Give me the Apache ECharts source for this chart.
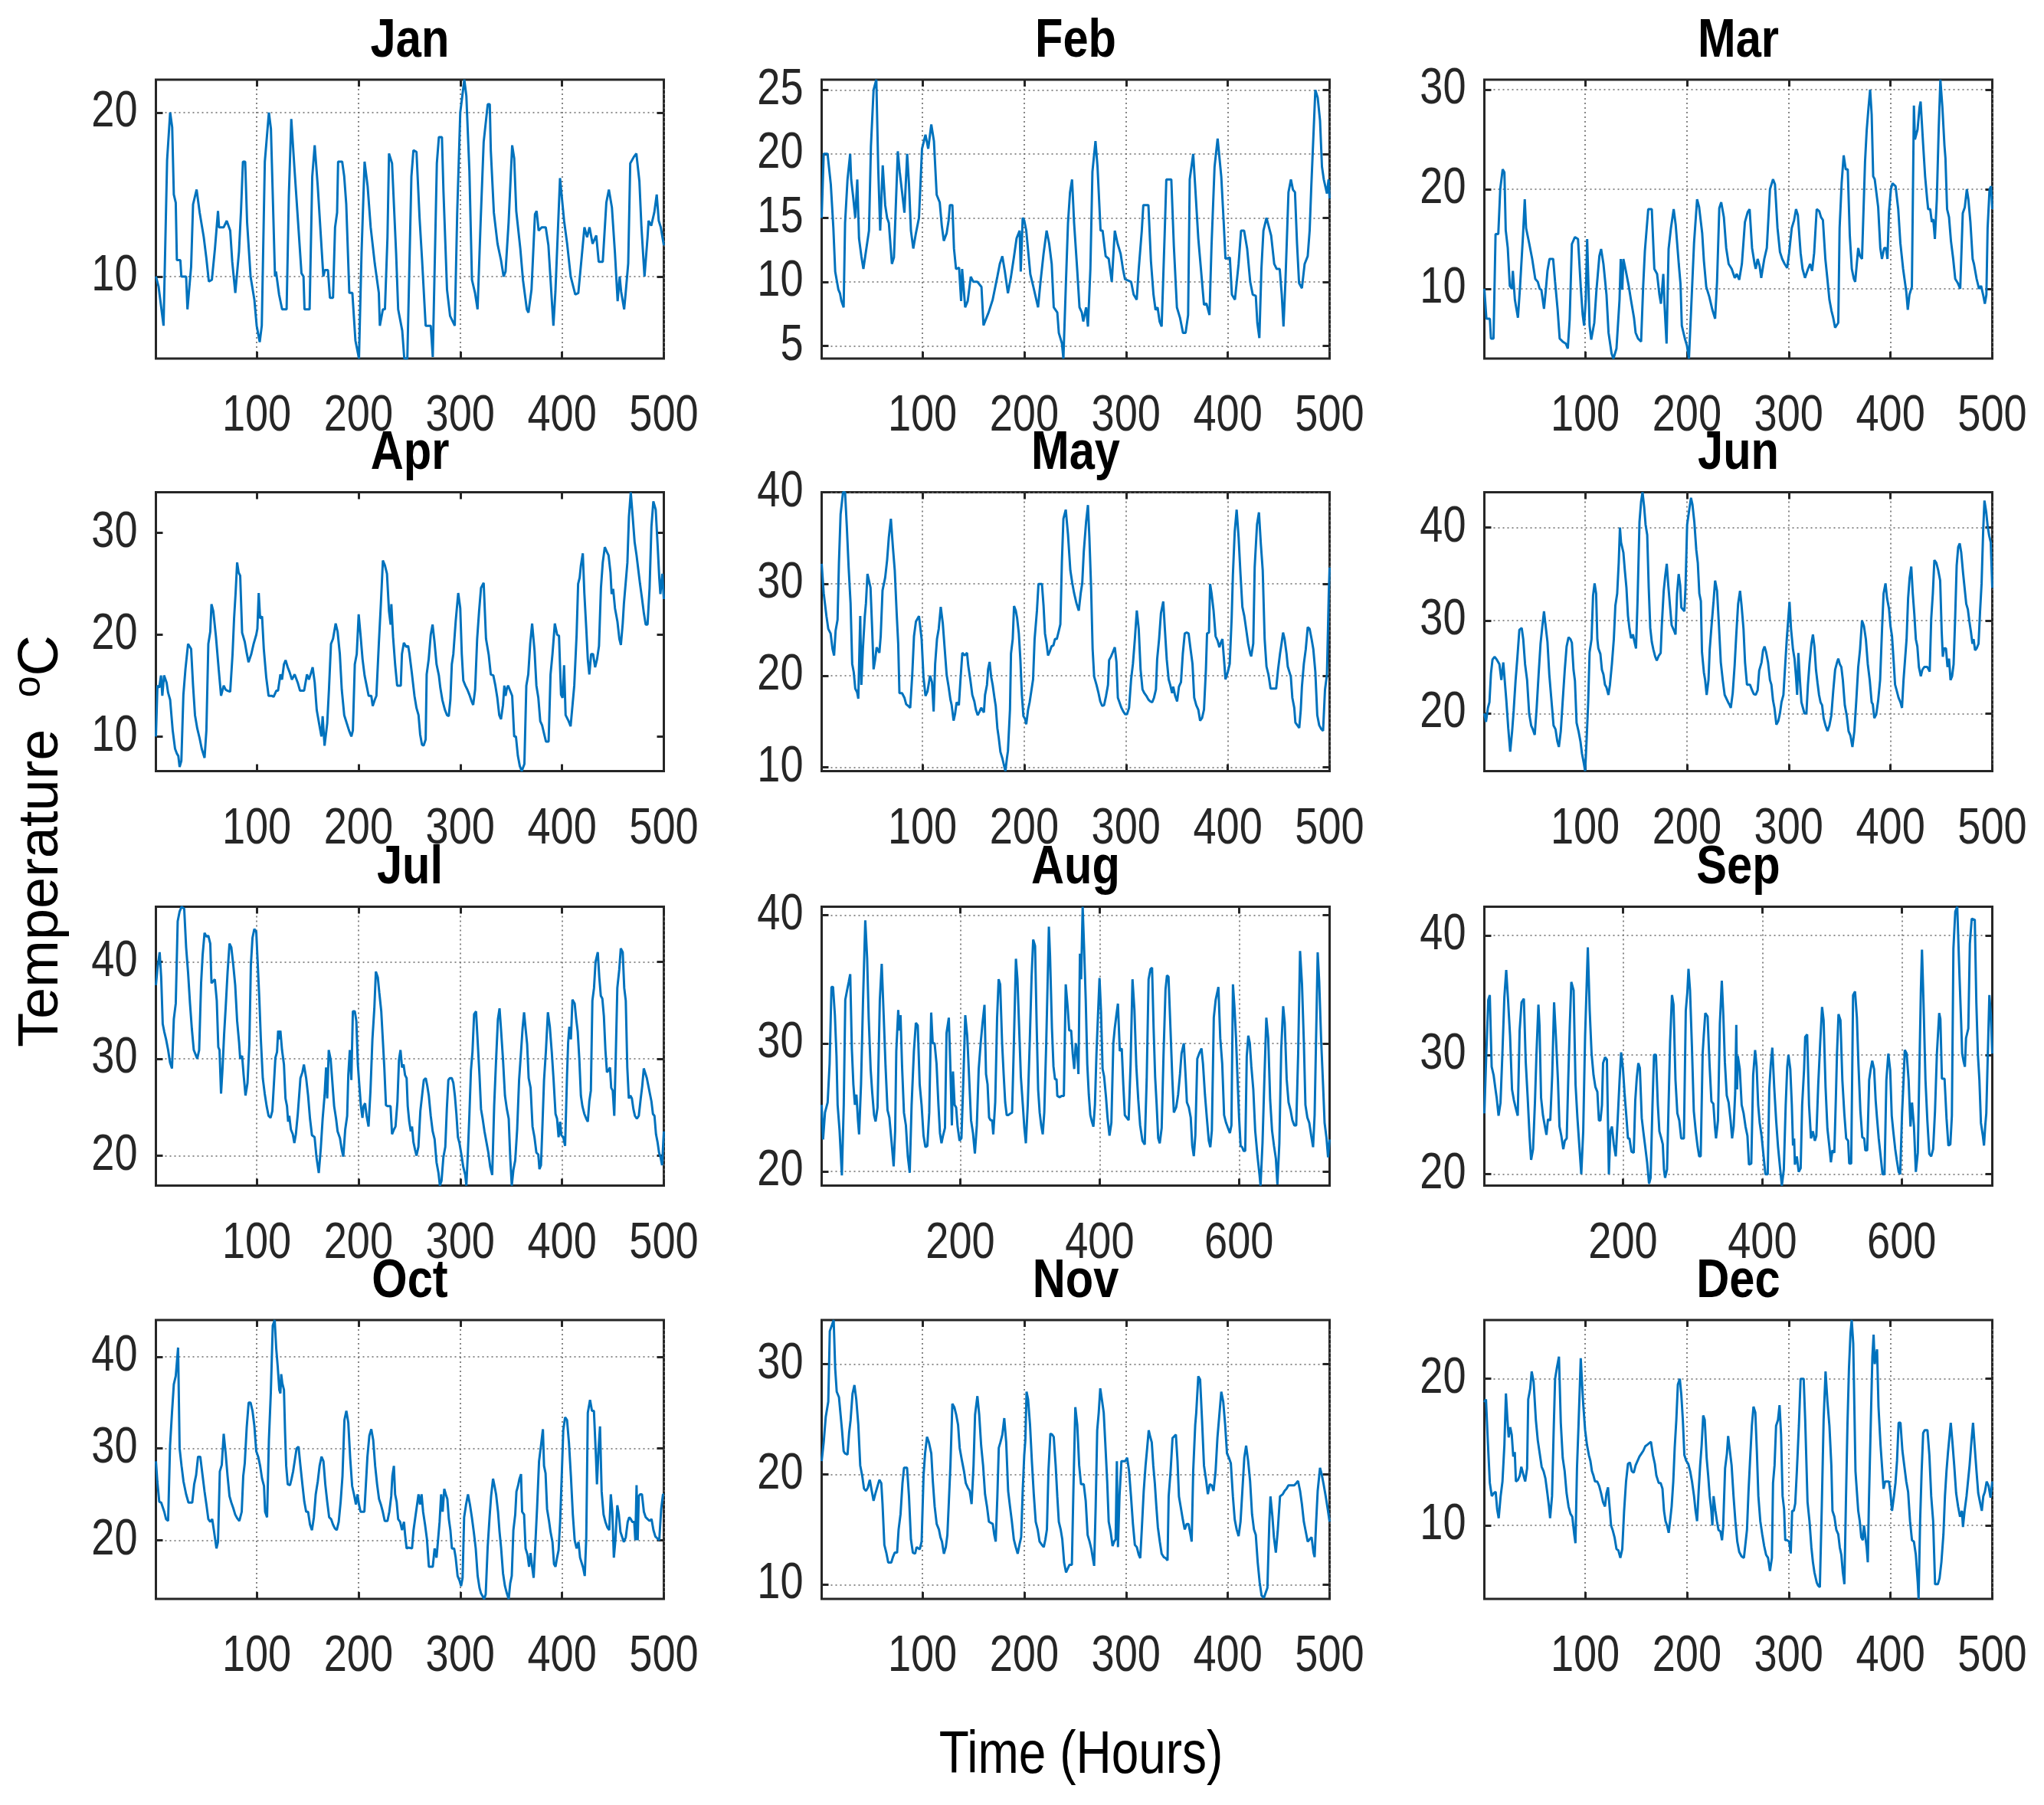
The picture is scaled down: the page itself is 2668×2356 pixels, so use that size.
<!DOCTYPE html>
<html><head><meta charset="utf-8">
<script src="https://cdn.jsdelivr.net/npm/echarts@6/dist/echarts.min.js"></script>
<style>html,body{margin:0;padding:0;background:#fff}#c{width:2668px;height:2356px}</style>
</head><body><div id="c"></div>
<script>
// ---------- DATA (hour, temperature °C) ----------
const monthNames = ['Jan','Feb','Mar','Apr','May','Jun','Jul','Aug','Sep','Oct','Nov','Dec'];
const xTicksShort = [100,200,300,400,500];
const xTicksLong = [200,400,600];
const yTicksJan = [10,20], yTicksFeb = [5,10,15,20,25], yTicksMar = [10,20,30], yTicksApr = [10,20,30],
      yTicksMay = [10,20,30,40], yTicksJun = [20,30,40], yTicksJul = [20,30,40], yTicksAug = [20,30,40],
      yTicksSep = [20,30,40], yTicksOct = [20,30,40], yTicksNov = [10,20,30], yTicksDec = [10,20];

const jan = [[1,10],[3.6,9.4],[8.5,7],[12,17.1],[15,20],[17,19.1],[18.6,15],[20.5,14.5],[21.6,11],[25,11],[26,10],[30.7,10],[32,8],[35.6,10.6],[37.5,14.4],[41,15.3],[44,13.9],[48,12.4],[50.6,11.1],[53,9.7],[56,9.8],[59,11.7],[62,14],[63,13],[67.6,13],[70.6,13.4],[74,12.8],[76,10.9],[79,9],[82.6,11.5],[84.6,14],[86.5,17],[88.7,17],[90.6,13.3],[94,10],[97.7,8.6],[100,7],[103,6],[105,7],[108,17],[112,20],[114,19],[118,10],[119,10.3],[122,8.9],[125,8],[129.4,8],[131.6,14.9],[134,19.6],[137,16.7],[141,13],[144,10.2],[146,10],[147,8],[152,8],[154.6,16.1],[157,18],[160,15.5],[163,12.5],[165.5,10],[167,10.4],[170,10.4],[172,8.7],[175,8.7],[177,13],[179,13.9],[180,17],[184,17],[186,16.1],[188,14.4],[191,9],[194,9],[197,6.1],[200.5,5],[203,11.4],[206,17],[209,15.5],[212,13],[216,10.8],[220,9],[221,7],[224,8],[226,8],[228.5,12.4],[230,17.5],[233,16.9],[237,11.4],[239,8],[243,6.7],[245,5],[248,5],[252,16.1],[254,17.7],[257,17.6],[260,13.6],[262.5,11],[266,7],[271,7],[273,5.1],[277,16.9],[279,18.5],[282,18.5],[283.5,15.2],[287,9.2],[290,7.6],[294.6,7],[297,13.9],[300,20],[304,22],[306,21],[309,16.4],[311.5,9.8],[314.5,9],[317,8],[320,13.3],[323,18.2],[327,20.5],[329,20.5],[330,17.7],[333,13.9],[336.6,12],[338,12],[340,11],[342.6,10],[344.5,10.3],[347.5,13.3],[351,18],[353,17.2],[355,14],[359,11.7],[361.6,9.8],[365.4,8],[367,7.8],[370,9.2],[373.4,13.8],[375,14],[377,12.8],[380,13],[384,13],[386.6,11.9],[389.6,8.9],[391.5,7],[393.5,9.1],[398,16],[402,13.4],[405,12],[408.5,10],[413,8.9],[416,9],[419,11],[422,13],[424.6,12.4],[427,13],[430,12],[433.6,12.5],[436,10.9],[440,10.9],[443.5,14.5],[446,15.3],[449,14.2],[452,11.4],[454.6,8.5],[456.6,10],[458,9.1],[461,8],[462.5,9],[465,10.8],[467,16.9],[470.6,17.3],[473,17.5],[476,15.8],[478,13],[481,10],[484,12.4],[485,13.4],[487.6,13.1],[490.6,13.9],[493,15],[495,13.4],[497,13],[500,11.9]];

const feb = [[1,15],[3,20],[6.8,20],[10,17.6],[12.5,14.2],[14.3,10.8],[17.4,9.4],[19,9.1],[20.4,8.5],[22.6,8],[24,14.6],[26.4,18],[29,20],[30,18],[32,16.6],[34,15],[36,18],[37.7,13.4],[40,12],[42,11],[43.8,12],[47.5,14],[49.4,20.6],[52,25],[54.7,25.8],[56.6,18.8],[58.5,14],[61,19.1],[63.4,16],[65.3,15],[67,14.6],[70,11.4],[72,11.9],[75.8,20.2],[77.7,18.6],[80,17],[82.3,15.4],[85,20],[86.8,17.6],[88.7,14],[91,12.6],[93.6,13.8],[96.6,15],[99.6,20.4],[103,21.5],[105.7,20.4],[108.7,22.3],[111.3,21],[114,16.8],[117,16.2],[119,14.4],[121,13.2],[123.8,13.8],[125.7,14.8],[127,16],[129.4,16],[131,12.6],[133,11],[136,11.1],[138,8.5],[139,11],[142,8],[144.5,8.5],[147.5,10.4],[150,10],[154,10],[158,9.6],[160,6.6],[162,7],[165,7.6],[169,8.6],[173.6,10.4],[176,11.4],[178.5,12],[181,10.8],[184,9.1],[187,10.4],[190,12],[192.5,13.4],[195.5,14],[196.6,10.8],[198.5,15],[200,14.8],[202,14],[206,10.6],[209,9.6],[213.6,8],[216,10],[219,12.2],[222,14],[224.5,13],[227,11.4],[229,8],[232.5,7.6],[234,6],[237,5.2],[238.5,4],[241,10],[243,14.6],[245,17],[247,18],[249,14.6],[252,11],[254.3,8],[256.6,7.6],[258,6.9],[260.8,8],[262.6,6.5],[265,11],[267,18.6],[270,21],[272,19],[275,14],[277,14],[280,12],[283,11.8],[286,10],[289,14],[291.7,13],[294.7,12.2],[297,11],[299,10.2],[305,10],[307.5,9],[310.5,8.6],[312.5,11],[315.5,14],[317,16],[322,16],[324.5,11.6],[327,9],[329,7.8],[331,8],[333,6.9],[335,6.5],[338,13.8],[339.6,18],[344.5,18],[347,12.8],[350,8],[353,7.2],[356,6],[358.5,6],[361,7.4],[362.6,18],[366,20],[368,17.4],[371,13.4],[373.6,11],[376.6,8.2],[379,8.3],[382,7.4],[384,12.8],[387,19],[390,21.2],[391,21.3],[393.6,18.2],[396,14.6],[397.7,11.8],[402,11.9],[404,9],[407,8.6],[410.6,11.4],[413,14],[416,14],[419,12.6],[422,10],[424.5,9],[427.5,8.9],[429,6.8],[431,5.6],[433,11],[435,14],[438,15],[440,14.4],[442.6,13.6],[445.6,11.4],[448,11],[451,11],[453,9],[454.7,6.5],[456.6,10],[459.6,17],[462,18],[464,17.2],[466,17],[468,13],[470,9.9],[472.8,9.5],[475.5,11.4],[478.5,12],[480.4,14],[482,17.4],[486,25],[488.3,24.4],[490.6,22.6],[492.5,19],[494.3,18],[495.5,18],[497.4,16.9],[499,18],[500,16.5]];

const mar = [[1,10],[3,7],[6.4,7],[7.5,5],[10,5],[12,15.5],[14.7,15.5],[16.6,20],[19,22],[20.7,21.7],[22,15.9],[24,14.1],[26,10.3],[28,10],[29,11.8],[31,8.9],[34,7.1],[36,10.1],[37,10],[39,15.4],[40.7,19],[42,16.1],[45,14.6],[48,13],[51,11],[53.5,10.7],[55.4,10],[57,9.9],[59.6,8],[61.4,9.9],[63,11.8],[65,13],[68.6,13],[70.5,10.7],[73,7.9],[75,5],[78,4.7],[79.5,4.8],[81,4.5],[83,4],[84.8,6.9],[87,14.5],[90,15.2],[93,15],[95.7,10.2],[97.6,7.4],[99,6.3],[100.6,8.9],[102,15],[104.4,6.3],[106,4.9],[109,6.6],[111,9.7],[114,13.3],[115.7,14],[118,12.5],[121,9.4],[123,5.6],[126,3.5],[127.8,3],[130.8,4],[133.8,8.9],[135,13],[136.5,9.9],[137.6,13],[140,11.8],[143,10.2],[145,8.9],[148,7.1],[149.6,5.6],[152,5],[155,4.7],[157,10.2],[158.7,13.8],[162,18],[165.5,18],[168,12],[170.7,11.5],[173,9.4],[174.5,8.5],[176.8,11.5],[178,8.4],[180,4.5],[182,14],[184.3,16.1],[187,18],[189,16.4],[192,12.5],[193.7,10.5],[195,6.3],[198,5],[200,4.3],[202,3],[204,7.6],[207,14.6],[210,19],[212,18.2],[215,15.6],[216.7,12.8],[219,10.2],[222,9.2],[225,7.9],[227.7,7],[229.6,10.7],[231.8,18.1],[233.7,18.7],[236.3,17.2],[238.6,14.1],[241,12.5],[244,12],[245,12],[247,11.1],[249,11.5],[251.4,10.9],[254,12.5],[257,16.7],[259.7,17.7],[261.6,18],[264,14.1],[266.5,12.5],[267.6,12],[269.5,13],[271.4,12.3],[273,11.1],[276,13],[278.5,14.1],[281.6,20],[284.6,21],[286.5,20.5],[289,16.1],[291.4,13.7],[293.6,13],[296,12.5],[298.5,12.1],[300.4,13.6],[303,16.1],[305.3,16.9],[307.2,18],[309,17.4],[311.7,13.6],[313.6,12],[316,11.1],[319,12],[321,12.5],[323,11.8],[325,13.6],[327.5,18],[330,17.8],[331.7,17.2],[333.6,16.9],[336,13],[338,11],[340,8.9],[342,7.8],[343.7,7.1],[345.6,6.1],[347,6],[348.7,6.6],[350,16.1],[352,20.6],[354,23.4],[356,22],[358,22],[360,15.4],[362,12],[364,11],[365.3,10.7],[368.3,14.1],[370,13.3],[372,13],[375,22.8],[376.6,25.9],[378.4,28.2],[380,30],[381.5,27.5],[383,21.3],[384.5,21],[386,21],[387.9,18.2],[390,14.1],[391.6,13],[393.8,14.1],[395.6,14.1],[397,13],[398.5,17.7],[400.4,20],[402,20.6],[405,20.3],[407.6,18],[409.7,14.6],[412.4,12],[415.5,9.7],[417,7.9],[418.6,9.4],[421,10.2],[423,28.4],[424,25],[426.6,26],[428.5,28.2],[429.6,28.8],[432,24.6],[434,21.3],[436,19],[437,18],[439,18],[440.6,16.7],[442,17],[443.6,15],[445.5,19],[447.4,26.2],[449,31],[451,28.2],[453,24.4],[454,23.1],[455.6,18],[457.5,17.2],[459.4,14.8],[461.6,13],[463.6,11],[466,10.6],[468.5,10],[471,17.6],[473,18.2],[475,20],[476.5,19],[478.5,16.7],[480.7,13],[482,12.5],[484.6,11],[487,10],[489,10.3],[491,9.4],[492.7,8.5],[494.2,9.4],[495.4,16.1],[497.3,20],[498.8,20.3],[500,18]];

const apr = [[1,10],[2.5,15],[4.3,14.8],[6,16],[7.3,14],[9,16],[11.5,15.3],[13,14.3],[15,13.6],[17.5,10.6],[19.8,8.8],[21.7,8.3],[23,8.1],[24.3,7],[26,7.6],[28,14.1],[30,16.6],[32.6,19.1],[35.6,18.6],[37.5,15],[39.4,12.1],[41.6,10.8],[44,9.8],[46,8.8],[48.8,7.9],[50.6,10.6],[52.5,19.1],[54.4,20.3],[55.6,23],[57.4,22.3],[60,19.8],[62.7,16.6],[65,14],[67.6,15],[69.5,14.6],[71.4,14.5],[74,14.4],[76.3,18.1],[77.8,21.6],[79.3,24.1],[80.8,27.1],[82.3,26.1],[83.8,25.8],[85.7,20.2],[88.3,19.3],[90.2,18.2],[92,17.3],[94.7,18.1],[97,19.1],[99.6,20],[100.7,20.6],[102,24.1],[103.4,21.6],[105.3,21.8],[107,18.6],[109.4,15.8],[111.7,14],[114.7,14],[116.6,13.9],[119.3,14.5],[121,14.5],[123.3,16.1],[124.9,15.6],[126.8,17.1],[128.4,17.5],[130.5,16.8],[132.4,16.3],[134.6,15.6],[137.3,16.1],[140.3,15.3],[142.6,14.5],[146.6,14.5],[149.4,16.1],[151.3,15.6],[153,16.1],[155,16.8],[157,15.3],[159,12.6],[161.8,11],[163.6,10],[164.8,12],[166.7,9.1],[169.3,11.3],[171,14.6],[173,19.1],[175,19.6],[177.6,21.1],[179.5,20.3],[181.7,18.1],[183.6,14.6],[186,12.1],[188.5,11.3],[190.7,10.6],[193,10],[194.5,10.6],[196.4,17.1],[198.3,18.1],[200.2,22],[202,20],[204,17.6],[206,16],[208,15],[210,14],[212.6,14],[214,13],[216,13.6],[217.6,14],[220,19.1],[222,23],[224,27.3],[226,26.8],[228,26],[230,22.3],[231.6,21],[232.3,23],[234,19.8],[236,17.1],[238,15],[241.6,15],[242.7,18.1],[244.6,19.2],[247,18.8],[248.8,18.9],[250,18.2],[252.6,16.1],[255,14],[257,12.8],[259,12.1],[260.6,10.2],[262.4,9.2],[264,9.1],[266,9.7],[267,16.1],[269,17.6],[271,20],[272.8,21],[274.7,19.3],[276.7,17.1],[279,16],[280.4,14.8],[282.4,13.6],[285,12.6],[287,12.1],[288.7,12],[290.3,13.6],[291.7,17.1],[293.2,18.1],[295.5,21.3],[298,24.1],[300,22.6],[301.5,18.1],[303,15.5],[305,15],[307,14.6],[309,14.1],[311,13.5],[312.7,13.1],[314.6,14.6],[316.6,19.6],[318.5,22.3],[320.4,24.6],[323,25.1],[325.3,19.6],[328,18],[330,16.1],[332.5,16],[334.5,15],[336.4,13.8],[338.3,12.1],[340,11.7],[342,13.1],[343.3,15],[344.5,14],[346,14.8],[347,15],[349,14.5],[351,14],[353,10],[354.7,10],[356.6,8.1],[358.5,7.1],[360.4,6.6],[363,7.3],[364.9,15],[366.8,16.1],[368.7,19.1],[370.6,21.1],[373,18.4],[374.8,15],[376.7,13.8],[378.6,11.5],[380.4,11.1],[382.3,10.3],[384.2,9.5],[386.8,9.5],[388.7,16.1],[390.6,18.1],[392.9,21.1],[395.2,20],[397,19.9],[399,14.1],[400.5,13.8],[402,17],[403.5,12.1],[405,11.8],[406.5,11.5],[408.4,11],[410.3,13.1],[412,15],[414.3,20],[415.8,25],[417.3,25.6],[418.5,26.8],[420.4,28],[421.9,24.1],[423.8,20.6],[425.3,17.6],[426.8,16.1],[428.6,18.1],[430.5,18.1],[432.5,16.8],[434.4,17.6],[436.3,18.9],[438.2,24.6],[440,27.1],[442,28.6],[443.8,28.2],[445.7,27.8],[447.6,26.1],[448.7,24],[450.2,24.5],[452,22.6],[454.4,21.3],[456.3,19.6],[457.8,19],[459.6,21.1],[460.8,23.1],[462.6,25.2],[464.2,27.1],[465.7,31.6],[467.5,34],[469.4,31.6],[471.3,29.1],[473.2,27.8],[475,26.3],[476.6,25],[478.5,23.6],[480.4,22.1],[482.2,21],[484,21],[486,24.6],[487.8,30.6],[489.7,33.1],[492,32.3],[494,28.6],[495.5,25.6],[496.6,24],[498.5,26],[500,23.5]];

const may = [[1,32.2],[3,29],[5.7,26.5],[7.5,25.1],[9.8,24.6],[11.7,22.9],[13.2,22.2],[14.7,24.9],[16.6,26.1],[18,32.4],[19.6,37.6],[22,40],[24,40],[25.7,36.3],[27.5,31.8],[29.4,27.9],[31,21.3],[32.5,20.4],[34,18.6],[35.8,18.2],[37,17.5],[38.9,26.5],[40,19],[41.5,22.9],[43.4,26.5],[44.5,27.9],[46,31.1],[47.5,31.1],[49,29.6],[50.6,25.1],[52,20.7],[53.6,21.8],[55,23.1],[57.7,22.5],[59,24.3],[60.8,29.3],[63.4,30.7],[65.3,32.6],[67,35.1],[69,37.1],[71,34],[72.8,31.5],[74.7,26.8],[76.2,23.5],[77.4,18.1],[80,18.1],[82.3,17.6],[84,16.9],[86,16.7],[88,16.5],[90,20.1],[91.7,24.3],[93.6,25.9],[96.6,26.5],[99.2,24],[101,19.9],[103,17.8],[105,18.3],[107.5,20],[109.4,19.3],[111,16.1],[112.5,21.3],[114.3,24],[116,25.1],[118,27.5],[120,25.7],[121.9,22.9],[123.8,20.1],[125.7,18.8],[127.5,17.4],[128.7,16.8],[130.6,15.1],[132,15.8],[133.6,17.1],[135.8,16.8],[137.4,19.6],[139.2,22.5],[141.5,22.2],[143.8,22.5],[145,21.1],[147,19.6],[149,17.9],[151,17.2],[152.5,16.3],[154.3,15.7],[156.2,16.1],[157.7,16.5],[160.4,16],[161.5,17.9],[163.4,19],[164.5,20.7],[166,21.5],[167.5,19.9],[169,19],[171,17.4],[172,16.7],[173.6,14.3],[175,13.2],[176.6,11.7],[178.5,11],[180.4,10.1],[181.5,9.6],[183,11],[184,11.8],[186,16.3],[187,22.4],[188.7,24],[190,27.6],[191.7,27.1],[193,26.3],[194.7,24.6],[196.2,21.8],[197.7,17.9],[199.2,15.6],[200.8,15.3],[202,14.7],[203.8,16.3],[205.3,17.1],[206.8,17.1],[208.7,19.6],[210.2,24],[212.5,27.1],[214,30],[217.4,30],[219,27.6],[220.4,24.6],[222,23.5],[223.4,22.2],[225,22.6],[226.8,23.2],[228.7,23.3],[230.2,24],[232,24],[234,24.9],[235.5,25.6],[237,32.4],[238.5,37.1],[240.8,38.1],[243,35.4],[245.3,31.5],[247.2,30.1],[249,29],[251.3,27.9],[253.6,27.1],[255.5,29],[257,30.1],[258.5,33.5],[260.8,36.8],[262.6,38.6],[264,35.1],[265.7,29.6],[267.2,22.9],[268.7,19.9],[271,19],[272.8,18.2],[274.7,17.2],[276.6,16.7],[278.5,16.8],[280.4,17.8],[282.3,19],[283.4,21.7],[285.3,22.1],[286.8,22.5],[289,23.1],[290.6,21.5],[292,17.6],[293.6,17.1],[295.5,16.5],[297.3,16.1],[299.2,15.8],[301,15.8],[303,16.5],[305,19.6],[306.8,21.3],[308.7,24],[310.6,27.1],[312.5,25.1],[314.3,20.7],[316.2,18.5],[318,18.1],[320,17.8],[322,17.4],[323.8,17.2],[325.7,17.1],[327.5,17.6],[329.4,18.5],[330.6,21.8],[332.5,24],[334.3,26.8],[336.6,28.1],[338,25.4],[340,21.8],[341.9,19.6],[343.4,19],[345.3,18.1],[346.4,18.8],[348.3,17.8],[350.2,17.2],[352,18.8],[354,19.3],[355.8,22.4],[357.7,24.6],[359.6,24.7],[361.5,24.6],[363.4,22.9],[365.3,21.3],[367,17.6],[369,16.8],[371,16.3],[372.8,15.1],[374.7,15.4],[376.6,16.3],[378.5,20.7],[379.6,24.6],[381.5,24.7],[382.6,30],[384,29],[386,27.1],[388,24.3],[390,23.8],[391.7,23.1],[392.8,23.5],[394.7,24],[396.6,21.3],[397.7,19.6],[400,20.4],[401.9,21.3],[403.8,26.3],[405,31],[406.8,35.7],[408.7,38.1],[410.6,35.1],[412.5,31],[414.3,27.5],[416.2,26.5],[418,25.1],[420,23.5],[422,22.4],[423,22.1],[425,23.5],[426.4,31.8],[428.7,36.5],[430.6,37.8],[432.5,34.3],[434.3,31.5],[436.2,24],[438,21],[440,20.1],[442,18.6],[444.5,18.6],[447.5,18.6],[449.4,20.7],[451.3,22.4],[452.8,23.5],[454.3,24.7],[455.8,24],[457.7,22.4],[458.9,21],[460.4,21],[461.9,19.9],[463.4,17.6],[465.3,16.5],[466.4,14.9],[468.3,14.6],[470.2,14.3],[471.7,16.3],[472.8,18.8],[474.7,21.3],[476.6,22.9],[478.5,25.3],[480.4,25.1],[482.3,24],[484,22.9],[486,20.4],[487.9,15.7],[489.8,14.6],[491.7,14.2],[493.6,14],[495.5,18.5],[497.4,20.1],[499.2,29],[500,31.8]];

const jun = [[1,20],[2.6,19.1],[4.5,20.6],[6,21.2],[7.5,24.3],[9,25.8],[11,26.1],[13.2,25.8],[15.8,25.3],[17.7,23.6],[19.6,25.5],[21,25.5],[22.6,21.4],[24.5,18.4],[26.4,15.9],[28.3,18.1],[29.8,20.3],[31.7,23.6],[33.5,26.1],[35.4,29],[37.7,29.2],[39.2,28],[41,25.3],[43,23.6],[45,20],[47,18.7],[48.6,18.3],[50.5,17.7],[52.4,20.6],[54.3,24.2],[56.2,27.5],[57.7,29.1],[59.6,31],[61,29.6],[63,27.7],[64.8,24.2],[66.7,21.7],[69,18.7],[70.9,18.3],[72.7,17],[74.2,16.4],[76.1,18.1],[78,21.4],[80,24.7],[81.8,27.2],[83.7,28.2],[85.6,28],[87,27.6],[88.6,24.7],[90,23.5],[91.6,19],[93.5,18.1],[95.4,17],[96.9,15.7],[98.8,14.6],[100,13.8],[101.4,17],[103,21.2],[104.4,26.6],[106.3,28],[107.8,32.7],[109.3,34],[110.8,32.9],[112,28],[113,27],[115,26.4],[116.5,24.7],[118,24.2],[119.5,23.1],[121,22.8],[122.9,22],[124.4,23.1],[126.3,25.3],[128.2,28],[129.7,31.6],[131.5,32.9],[133,36.2],[134.2,40],[135.3,38.4],[137.6,37.3],[139,35.4],[140.6,33.5],[142.1,30.5],[143.6,29.1],[145.1,28.1],[147,28.5],[148.5,27.7],[150,27],[151.5,32.1],[153.4,40.6],[155,42.8],[156.4,43.8],[158,42.2],[159.4,40.3],[161,39.2],[162.5,33.5],[164,29.2],[165.5,27.7],[167,26.9],[168.9,26.1],[170.4,25.7],[172.3,26.2],[174.2,26.5],[175.3,29.4],[177.2,33.2],[178.7,34.8],[180.2,36.1],[181.7,33.8],[183.6,31.3],[185,29.5],[187,29],[188.8,28.5],[190.3,32.9],[191.9,35],[193.4,33.8],[194.5,31.4],[196,31.3],[197.5,31],[198.6,33.5],[200.2,40.3],[202.4,42],[204,43.2],[205.4,42.5],[207.3,40.6],[209.2,37.6],[210.7,36.2],[212.2,32.9],[213.7,32.1],[214.8,26.6],[216.7,24.4],[217.9,23.6],[219.4,22],[221.2,23.6],[222.4,26.9],[224.3,29.6],[226.2,32.1],[227.7,34.3],[229.6,33.2],[231.4,29.6],[233.3,25.5],[235.2,23.6],[237.1,22],[238.6,22],[240.5,21.2],[242,20.9],[243.1,20.6],[245,22.2],[246.9,25.2],[248.4,28.3],[250.3,31.8],[252.2,33.2],[253.7,31.6],[255.6,29.1],[257.1,25.5],[259,23.1],[262,23.1],[264,22.5],[265.7,22.1],[267.6,22],[269.5,22.5],[271,24.6],[273.3,25.5],[274.8,26.8],[276.3,27.2],[277.8,26.6],[279.7,25.5],[281.6,23.6],[283,23.1],[284.6,21.4],[286,20.6],[287.9,18.8],[289.8,19.2],[291.4,20],[292.9,21.2],[294.8,22],[296.6,25.3],[298.1,28],[299.6,30.2],[300.8,32],[302.3,29.1],[304.2,26.9],[305.7,25.9],[307.2,23.9],[308.3,22],[309.5,26.5],[311,23.6],[312.5,21.2],[314,20.6],[315.5,20],[317.4,20],[318.9,23.1],[320.4,25.3],[322.3,27.5],[323.8,28.5],[325.3,27.2],[326.8,24.7],[328.3,23.3],[329.8,22],[331.3,21.2],[332.8,20.9],[334.3,19.5],[336.2,18.7],[338.1,18.1],[340,18.7],[341.9,19.8],[343.8,22.5],[345.6,24.7],[347.5,25.5],[348.7,25.9],[350.2,25.3],[351.7,25],[353.2,23.6],[355.1,20.9],[357,19.8],[358.8,18.1],[360.7,17.6],[362.6,16.4],[364.5,18.1],[366.4,21.4],[368.3,25],[370.1,26.9],[372,30],[373.9,29.4],[375.8,28],[377.7,25.3],[379.6,23.6],[381.5,21.2],[382.6,21],[384.1,19.5],[386,19.9],[387.9,21.4],[389.8,23.6],[391.7,29.1],[393.2,32.9],[395.1,34],[396.6,32.4],[398.5,31.3],[400,29.4],[401.5,28.3],[403,25.8],[404.5,23.1],[406,22.5],[407.9,21.7],[409.8,21.2],[411.3,20.6],[412.8,23.6],[414.3,25.8],[415.8,28],[417.3,32.4],[418.8,34.6],[420.4,35.8],[421.9,32.9],[423.4,30.7],[424.9,28],[426.4,27.2],[427.9,25],[429.8,24],[431.3,24.7],[433.2,25],[436.2,25],[438.5,24.5],[440,30.2],[441.6,32.9],[443.1,36.5],[445,36.2],[446.9,35.4],[448.8,34.3],[450.3,28.8],[451.4,26.1],[452.6,27],[454.5,27],[456,25],[457.5,25.9],[459,23.6],[460.5,24],[462,25.3],[463.5,30.2],[465,35.9],[466.5,37.9],[468,38.3],[469.5,37.3],[471.4,35],[472.9,35],[474.4,31.8],[476,31.2],[477.5,29.9],[479,28.8],[480.5,27.5],[481.6,28],[483.1,26.8],[484.6,27],[486.5,27.5],[488,31],[489.5,34],[491,39.5],[492.3,42.9],[494,41.7],[495.5,40.1],[497,39.1],[498.5,38.4],[500,33.5]];

const jul = [[1,37.6],[2.4,39.2],[4.7,41],[6.2,38.4],[7.7,33.6],[9.2,32.8],[11,32],[13,30.9],[14.9,29.6],[16.8,29],[18.6,34.1],[20.5,35.7],[22.4,44.2],[24.3,45.2],[26.2,45.7],[28.8,45.5],[30.7,41.5],[32.6,38.9],[34.5,35.7],[36.3,33.1],[38.2,30.9],[40.1,30.4],[41.6,30],[43.5,30.9],[45.4,37.8],[46.9,40.7],[48.8,43],[50.6,42.6],[52.5,42.7],[54.4,41.9],[55.6,37.8],[57,37.7],[58.9,38.2],[60.8,36],[62.3,31.2],[63.5,30.9],[65,26.4],[66.5,29.1],[68,32.5],[69.5,35.2],[71.4,38.9],[73.3,41.9],[75.1,41.5],[77,39.7],[78.9,37.6],[80.8,33.9],[82.7,31.7],[83.8,30],[85.7,30.3],[87.2,28.3],[89,26.2],[91,27.5],[92.8,31.5],[94.3,39.7],[95.9,42.5],[97.7,43.4],[99.6,43.1],[101.1,43],[102.6,36.2],[104.1,32],[106,28],[107.9,26.4],[109.8,25.1],[111.7,24.1],[113.6,23.9],[115.4,24.6],[116.9,24.7],[118.4,30.1],[120,30.7],[121.1,32.9],[122.2,32],[123.3,32.9],[124.9,30.9],[126.8,29.4],[128.3,25.9],[129.8,25.1],[130.9,23.5],[132,24.1],[133.6,22.7],[135.5,22.2],[137,21.3],[138.5,22.2],[140.4,24.3],[143,28],[144.9,28.6],[146.4,29.4],[148.6,28],[150.5,26.2],[152.4,23.8],[154.3,22.1],[156.9,21.9],[158.8,19.8],[161,18.2],[162.9,20.6],[164.8,23.8],[166.7,26.2],[168.2,29.1],[169.3,25.9],[170.8,30.9],[172.7,29.9],[174.2,27.8],[176.1,25.1],[178,23.8],[179.5,22.5],[181.8,21.8],[183.6,20.6],[185.1,19.9],[187,22.7],[188.9,24.1],[190,28.3],[191.5,30.9],[193,27.8],[194.5,34.9],[196.4,34.9],[197.9,33.9],[199.4,29.4],[200.9,27.2],[202.4,25.1],[203.9,23.9],[205,25.1],[206.5,25.4],[208,24.1],[209.9,23],[211.8,26.7],[213.7,32],[215.6,35.2],[217.1,39],[219,38.4],[220.5,36.8],[222.4,34.9],[223.9,32],[225.4,29.1],[227,25.2],[228.8,25.1],[231.5,25.1],[233,22.2],[234.9,22.7],[236.4,23],[238.3,25.6],[239.8,29.9],[241.3,30.9],[242.8,29.1],[244.3,29.4],[245.8,28.3],[247.3,28],[248.4,25.1],[249.9,23.5],[251.4,22.5],[252.6,23],[254,21.4],[255.6,20.6],[257,20],[258.9,20.9],[260.8,24.6],[262.7,26.4],[264.2,27.8],[266.1,28],[267.6,27.2],[269.1,26.2],[271,24.1],[272.9,22.5],[274.8,21.7],[276.7,19.3],[278.6,18.2],[280,16.9],[281.6,17.4],[283.4,19.8],[285.3,20.9],[286.8,24.8],[288.3,27.8],[289.8,28],[291.7,28],[293.2,27.5],[294.7,26.2],[296.2,24.3],[297.7,21.9],[299.2,21.3],[301.1,20.1],[303,18.8],[304.9,18],[306,16.9],[307.5,20.3],[309,24.3],[310.5,28.8],[312,30.7],[313.6,34.6],[315.5,34.9],[317,32],[318.9,28.3],[320.4,24.8],[322,23.8],[323.8,22.5],[325.7,21.4],[327.6,20.3],[329.5,18.8],[331.4,18],[333.3,25.1],[335.2,29.9],[337,34.1],[338.6,35.2],[340,33.1],[342,29.9],[343.9,26.2],[345.8,24.8],[347.6,23.8],[349.1,19.8],[350.6,16.9],[352.2,18.5],[354,19.5],[355.9,22.7],[357.8,27.8],[359.7,30.7],[361.2,33.1],[362.7,34.8],[364.2,33.1],[365.7,31.5],[367.2,28],[369.1,27],[371,23],[372.9,21.9],[374.8,20.3],[376.7,20.1],[377.8,18.6],[379.3,19],[380.8,23.3],[382.3,27.8],[384.2,30.9],[386.1,34.8],[388,33.3],[389.9,30.7],[391.7,27.8],[393.6,24.3],[395.1,23.8],[396.6,21.9],[398.1,23.5],[399.3,22.1],[401.2,21.9],[403,21],[404.9,28.3],[406,31.7],[407.2,33.3],[408.7,32],[410.2,36.1],[412.4,35.7],[413.9,34.1],[415.4,32.8],[417,29.9],[418.5,26.2],[420,25.1],[421.9,24.3],[423.8,23.8],[425.3,23.5],[426.8,25.6],[428.3,26.7],[429.8,36],[431.4,37.3],[432.9,40],[435.1,41],[436.6,38.4],[438.1,36.5],[439.6,36.2],[441.1,34.4],[442.6,30.9],[444.1,28.6],[445.6,28.8],[447.1,29.1],[448.3,27],[449.8,26.7],[451.3,24.1],[452.8,30.4],[454.3,37.3],[456.2,39.2],[457.7,41.4],[459.6,41],[461.1,37.3],[462.6,36],[464.1,29.1],[465.6,25.9],[467.1,26.2],[468.6,25.9],[470.1,24.8],[471.6,24.1],[473.5,23.8],[475.4,24.1],[477.3,25.9],[478.8,27.2],[480.3,29],[481.8,29],[483.3,28],[484.8,28],[486.3,26.4],[487.8,25.6],[489.3,24.3],[490.8,24.1],[492.3,22.2],[493.8,21.4],[495.3,20.3],[496.8,19.8],[498.3,19],[500,22.5]];

const aug = [[1,25.2],[3,22.5],[5.8,24.6],[9.6,25.4],[12.4,28.4],[15.1,34.4],[17.3,34.4],[20,32.2],[22.3,29],[23.9,25.2],[26.7,23.2],[30,19.7],[32.7,25.2],[34.9,33.4],[37.7,34.2],[39.9,34.8],[42,35.4],[44.3,29.6],[46.5,26.8],[48.7,25.2],[50.9,26],[53.1,24],[54.7,22.9],[57.5,26.8],[60.3,33.2],[63.6,39.6],[66.3,36.6],[68.5,32],[71.3,28],[73.5,26.2],[76.2,24.4],[78.4,23.9],[81.2,25],[84.5,33.4],[87.2,36.2],[90,32.2],[92.7,28.2],[95.5,24.8],[98.2,24.2],[101.5,22.2],[104.3,20.4],[106.5,23.2],[108.1,29.4],[110.9,32.6],[112.5,31],[114.2,32.2],[116.4,28.2],[119.1,24.6],[121.9,23.6],[124.6,21.2],[127.4,19.9],[130.1,25.2],[133.4,29.4],[136.2,31.6],[138.9,31.4],[141.7,26.8],[144.4,25.2],[147.2,22.8],[149.9,21.9],[152.7,22],[155.4,24.6],[158.2,32.4],[160.4,30],[163.1,30],[165.9,28.4],[168.6,25.2],[170.8,23],[173,22.2],[175.2,22.8],[178,23.4],[180.2,30.8],[183.5,32],[185.7,28.2],[187.9,23.6],[189.5,27.8],[191.8,25.2],[194,25],[196.1,23.5],[198.9,22.4],[201.6,22.6],[204.4,27.2],[207.1,32.2],[209.9,30.6],[212.6,27.4],[215.4,24],[218.2,23],[220.9,21.4],[223.7,23.6],[226.4,28],[229.2,30],[231.9,31.6],[234.7,33],[236.9,27.6],[239.1,26.8],[241.3,24.2],[243.5,24],[245.7,24],[247.3,22.9],[250.1,25.4],[252.8,32],[255,35],[257.2,34.6],[260,30],[262.2,27.6],[264.4,25.4],[266.6,24.4],[268.8,24.4],[271.5,24.5],[274.3,24.6],[276.5,29.2],[279.8,36.6],[282,35],[284.7,30.8],[286.9,27.4],[289.7,25.2],[291.9,23.4],[294.1,22.2],[296.8,25.2],[299.6,30],[302.3,35.2],[304.6,38.1],[307.3,37.6],[309.5,31.6],[311.7,26.4],[313.9,24.6],[316.1,23.6],[318.3,22.9],[320.5,24.6],[323.3,30],[325.5,35.2],[327.1,39.1],[328.8,36.8],[331.5,31.2],[333.7,28.2],[335.9,27.2],[338.1,27.2],[339.2,25.9],[342.5,25.8],[345.8,25.9],[348.6,25.9],[351.3,34.6],[354.1,32.8],[356.3,31],[359.1,31],[361.3,29.2],[363.5,28],[365.7,30],[367.9,29.2],[369.5,27.6],[371.7,37],[373.4,35],[375.6,40.66],[377.8,37.2],[380,33.4],[382.2,28.4],[384.4,26],[386.6,24.4],[388.8,23.9],[391,23.5],[393.2,25.2],[395.4,29.2],[397.6,32.2],[399.8,35.1],[402,32.4],[404.2,28],[406.4,27.4],[409.1,25.8],[411.3,24.2],[414.1,22.8],[416.8,23.8],[419.6,30],[421.7,31.2],[424,32.2],[426.2,33.1],[428.9,29.4],[431.7,29.6],[433.9,26.8],[436.1,24.4],[438.8,24.2],[441.6,24],[444.4,28.4],[447.1,35],[449.9,32.6],[452.6,28.2],[455.4,25.6],[458.1,23.6],[461.4,22.4],[464.7,22.1],[467.5,27.2],[470.2,35],[473,35.8],[475.2,35.9],[477.4,31.2],[479.6,27.4],[481.8,25.2],[484,22.6],[486.2,22.2],[489,23.4],[491.7,29.2],[494.5,34.2],[496.6,35.3],[498.8,35.2],[501.6,31.2],[504.3,27.2],[506.5,24.6],[509.8,25],[512.6,26],[515.3,27.6],[517.5,29.2],[520.8,30],[523.6,27.2],[525.2,25.4],[528,25],[530.7,24.2],[532.9,22],[535.1,21.2],[537.3,22.8],[540.1,28.8],[542.8,29.2],[546.1,29.6],[548.3,28.4],[551.1,26],[553.8,24.2],[556.6,22.4],[558.8,21.9],[561,23.2],[563.8,32],[566.5,33.4],[570.4,34.4],[573.1,30.4],[575.9,28.4],[578.6,24.4],[581.4,23.8],[584.1,23.4],[586.9,23],[589.1,23.6],[591.3,34.6],[593.5,32.8],[595.7,30.4],[597.9,27.2],[600.1,24.2],[602.3,22],[604.5,21.9],[606.7,21.6],[608.9,21.6],[611.1,29],[613.3,30.6],[615.5,30],[617.7,28.2],[620.5,26.4],[623.2,23.2],[626.5,21.2],[629.3,19.8],[630.9,18.9],[633.7,22.2],[636.4,27.2],[639.2,32],[641.9,30.4],[644.7,25.6],[647.4,23.2],[650.2,22],[652.9,21],[655.1,19],[657.9,22.2],[660.6,29.6],[663.4,32.9],[665.6,31.6],[668.4,27.2],[671.1,25.4],[673.9,24.8],[676.6,24],[679.4,23.6],[682.1,23.6],[684.9,29.2],[687.6,37.2],[690.4,34.6],[693.1,30],[695.3,25.2],[698.1,24.2],[700.8,23.8],[703.6,22.8],[706.3,21.9],[708.5,24.4],[711.3,32.4],[712.9,37.1],[715.1,34.8],[717.9,30.2],[720.6,26.8],[722.8,23.8],[725.6,22.6],[727.8,21.1],[730,22.5]];

const sep = [[1,25.1],[3.8,30.1],[6.6,34.6],[8.8,35],[11.5,29],[14.3,28.3],[17,27.1],[18.7,26.4],[21.4,24.9],[24.2,26],[26.9,30.1],[29.7,34.8],[32.4,37.1],[35.2,34.4],[37.9,31.6],[40.7,27.1],[43.4,26.2],[46.2,25.5],[48.9,24.9],[51.6,32],[54.4,34.4],[57.7,34.7],[60.4,29.4],[63.2,26.4],[65.9,23.2],[68.1,21.2],[70.9,22.1],[73.6,26],[75.8,30.1],[78.6,34.2],[80.2,32.4],[82.4,26.4],[85.2,24.9],[87.9,24],[90.1,23.3],[92.3,24.6],[95.6,24.5],[98.4,28.3],[101.1,34.4],[103.8,31.4],[106.6,27.9],[108.8,24],[111.5,23.2],[114.3,22.1],[116.5,22.8],[119.2,23],[121.4,27.9],[123.6,32.4],[125.8,36.1],[129.1,35.4],[131.9,27.5],[134.6,24.7],[137.4,22.3],[140.1,20],[142.9,23.6],[145.6,31.6],[149.5,39],[152.2,33.7],[154.9,30.1],[157.7,28.3],[160.4,27.3],[163.2,26.9],[165.4,24.5],[167.6,24.5],[169.8,25.8],[171.4,29.3],[174.2,29.8],[176.9,29.6],[179.7,20],[181.9,23.6],[184.1,24],[186.8,22.5],[189.6,21.5],[192.3,24.5],[195.1,27.9],[197.3,30.2],[200,28.8],[202.2,26.8],[205,24.7],[207.1,23],[209.3,23],[212.1,21.9],[215.4,21.8],[217.6,26.2],[219.8,28.1],[222,29.3],[224.2,28.9],[226.9,24.7],[229.1,23.6],[231.9,22.3],[234.6,21],[237.4,19.2],[239.6,19.7],[242.3,25.8],[244.5,30],[247.3,30],[250,25.8],[252.2,23.6],[255,23],[257.1,22.5],[258.8,20.4],[260.4,19.7],[263.2,20.4],[265.4,25.8],[267.6,31.1],[270.3,35],[272.5,34.2],[275.3,27.9],[278,25.1],[280.8,24.5],[283.5,23],[287.4,23],[290.1,33.7],[292.3,35.2],[294,37.2],[296.2,35.4],[298.9,30.7],[301.6,25.3],[304.4,23.6],[307.1,22.3],[309.3,21.5],[311.5,21.5],[314.3,30.1],[315.9,31.6],[318.1,33.5],[321.4,33.2],[324.2,29.2],[326.9,26.1],[329.7,25.9],[331.9,24],[333.5,23],[336.3,24.5],[339,32.6],[341.8,36.2],[344,33.3],[346.2,29.4],[348.9,26.6],[351.6,26],[354.4,24.5],[356.6,23],[358.8,24],[361,26.8],[362.6,32.5],[363.7,27.1],[364.8,29.9],[367.6,28.8],[370.3,25.8],[373.1,25.1],[375.8,24],[378.6,23.2],[380.8,20.8],[384.1,20.9],[386.8,28.3],[389.6,30.4],[391.8,29],[394,25.8],[396.2,24.3],[398.9,23.2],[401.1,21.9],[404.4,20],[407.7,20],[409.9,27.1],[412.1,29.2],[414.3,30.6],[417,27.3],[419.8,24.5],[422.5,22.3],[425.3,20.6],[428,19.05],[430.8,20.4],[433.5,25.8],[435.7,29],[437.4,30],[440.1,28.8],[442.3,25.8],[444,22.4],[445.6,23],[446.7,20.8],[449.5,21.5],[452.2,20.2],[455,20.5],[457.1,25.8],[459.9,28.8],[461.5,31.5],[464.3,31.7],[467,25.8],[469.8,23],[472.5,23.6],[475.3,22.8],[477.5,23.2],[480.2,27.5],[483,31],[485.7,34],[487.9,32.9],[490.7,27.3],[493.4,23.8],[496.2,22.3],[498.4,21],[500.5,22],[503.3,21.8],[505.5,26.4],[507.1,30.1],[509.3,33.4],[512.1,32.9],[514.8,27.9],[517.6,25.1],[520.3,23],[523.1,22.8],[524.7,20.9],[527.5,20.9],[530.2,35],[533,35.3],[535.7,33.1],[537.9,29.2],[540.7,25.3],[543.4,23.1],[546.2,23],[547.8,22],[550.5,22],[553.3,27.9],[555.5,28.8],[557.7,29.5],[560.4,28.8],[562.6,26.2],[564.3,24.9],[567,23],[569.8,21.5],[572.5,20],[575.3,20],[578,27.9],[580.8,30.1],[583.5,28.7],[585.7,24.9],[587.9,23.6],[590.7,22.1],[592.9,21.2],[595.6,20.2],[597.8,20],[600.5,25.1],[602.7,27.9],[604.4,30.4],[607.1,30.1],[609.9,27.9],[612.6,24],[614.8,26],[617.6,24],[620.3,20.2],[623.1,21.8],[625.8,30.1],[627.5,35.4],[629.1,38.8],[631.3,34.4],[634.1,27.9],[636.8,24.5],[639.6,21.7],[642.3,21.5],[645.1,22.1],[647.8,25.3],[650.5,30.1],[653.8,33.5],[655.5,33],[657.7,28],[661.5,28],[664.3,24.7],[667,22.4],[669.8,22.5],[672,24.9],[674.2,38.9],[676.9,42],[679.7,42.4],[683,36.5],[685.2,32.9],[686.8,30.1],[689,29.4],[690.7,29],[692.3,31.4],[695.6,32.2],[697.8,39.3],[700.5,41.4],[704.9,41.3],[707.1,34.4],[709.3,30.1],[711.5,27.9],[713.7,24.3],[716.5,23.2],[718.1,22.4],[719.8,24],[721.4,25.1],[723.6,30.1],[725.8,35],[728,33.3],[730,30.1]];

const oct = [[1,28.6],[2.4,26.4],[4.3,24.2],[6.2,24.1],[7.7,23.6],[9.2,23.1],[11,22.3],[13,22.1],[14.9,30.3],[16.8,33.9],[18.6,37],[20.5,37.9],[22.8,41],[24.3,30],[26.2,28.1],[28.1,26.4],[30.7,25],[33,24.1],[36.7,24.1],[38.6,26.1],[40.5,27.1],[42.4,29.1],[44.6,29.1],[46.9,27],[48.8,25.3],[50.6,23.9],[52.5,22.3],[54.4,22],[56.3,22.3],[58.2,20.9],[60.5,19.1],[62,19.8],[63.8,27.5],[65.7,28.2],[67.6,31.6],[69.5,29.5],[71.4,27],[73.3,24.8],[75.1,24.1],[77,23.5],[78.9,22.8],[80.8,22.4],[83,22.1],[85.3,23.1],[86.8,27],[88.3,28.4],[90.2,32.3],[92.1,35],[94,35],[95.9,34.1],[97.7,32.5],[99.6,29.7],[101.5,29.1],[103.4,28.1],[105.3,26.7],[107.2,25.9],[108.3,23.1],[110.2,22.5],[112,30.9],[113.9,36.1],[115.8,43.4],[117.7,44],[119.2,40.9],[120.7,38.9],[122.2,36.4],[123.3,36],[124.1,38.1],[125.2,37.1],[126.8,36.4],[127.9,31.7],[129,28.1],[130.5,26.1],[132.8,26],[134.3,26.7],[135.8,27.5],[137.3,28.6],[139.2,30],[141.1,30.2],[143,28.1],[144.9,26.1],[146.8,24.2],[148.6,23.1],[150.5,23.1],[152.4,21.7],[154.3,21.1],[156.2,22.5],[158,25],[160,26.4],[161.8,28.1],[163.7,29.1],[165.6,28.6],[167.4,26.1],[169.3,24.2],[171.2,22.5],[173.1,22.3],[175,21.7],[176.8,21.3],[178.7,21.1],[180.6,22],[182.5,24.2],[184.3,27],[186.2,33.1],[188.1,34.1],[190,32.8],[191.9,28.9],[193.8,25.9],[195.6,25],[197.5,23.9],[199,25],[200.5,23.9],[202,23.1],[203.9,23.1],[205.8,23.1],[207.3,26.1],[208.8,29.1],[210.7,31.4],[212.6,32.1],[214.5,30.9],[216.4,28.1],[218.3,26.1],[220.2,24.5],[222,23.9],[223.9,23.1],[225.8,22.1],[228.5,22.1],[230.3,23.1],[232.2,24.8],[233.3,27],[234.8,28.1],[236,25],[237.5,24.2],[239,22.3],[240.9,22],[242.8,21.1],[244.7,22],[245.8,20.6],[247.3,19.1],[249.2,19.2],[250.7,19.3],[252.6,19.1],[254.1,21.1],[255.6,22.3],[257.1,23.5],[259,25],[260.5,23.9],[262,25],[263.5,23.1],[265.4,21.7],[267.3,20.1],[269.2,17.1],[271.1,17.1],[273,17.1],[274.8,19.1],[276.7,18.1],[278.2,18.1],[279.7,22],[281.2,25],[282.7,23.1],[284.3,25.6],[285.8,25],[287.3,24.5],[288.8,22.3],[290.3,21.1],[291.8,19.1],[294,19.1],[295.5,18.1],[297.4,16.1],[299.3,15.6],[300.8,15],[302.3,15.9],[303.8,22.5],[305.7,23.9],[307.6,25],[309.5,23.9],[311.4,22.5],[313.3,20.9],[315.2,19.1],[317.1,16.1],[318.9,14.8],[320.4,14.2],[322,13.9],[323.5,13.6],[325,14.1],[326.9,19.2],[328.8,22.5],[330.3,24.8],[332.2,26.7],[333.7,25.9],[335.2,25],[337.1,23.1],[338.6,20.9],[340.1,19.2],[342,16.4],[343.9,15],[345.8,14.2],[347.6,13.6],[349.1,15.3],[350.6,16.1],[352.2,21.1],[354,22.8],[355.2,25.3],[356.7,25.9],[358.2,26.7],[359.7,27.2],[360.8,23.1],[362.7,22.8],[364.2,19.1],[366.1,18.4],[367.6,17.1],[369.1,18.6],[370.6,17.1],[372.1,15.9],[373.6,19.2],[375.5,23.6],[377.4,28.6],[379.3,30.3],[381.2,32.1],[382.3,28.1],[383.8,27.3],[385.3,23.4],[387.2,22.1],[388.7,20.9],[390.6,19.8],[392.1,17.4],[393.6,17.1],[395.1,18.1],[396.6,18.9],[398.1,22],[399.6,26.7],[401.2,32],[403,33.4],[404.9,33.1],[406.8,30.6],[408.7,27],[410.6,22.8],[412.4,20],[414.3,19.1],[416.2,19.8],[417.7,18.1],[419.2,18.1],[420.7,17],[422.3,16.1],[423.8,20.3],[425.3,33.9],[427.5,35.3],[429.4,34.1],[431.3,34.1],[433.2,29.4],[434.3,26.1],[435.8,29.8],[437.3,32.4],[438.9,25.3],[440.8,22.8],[442.6,22],[444.5,21.4],[446.4,21.1],[447.9,25],[449.4,23.1],[450.9,18.1],[452.4,20],[454.3,23.8],[455.8,22.8],[457.4,20.9],[459.2,20.3],[460.7,19.8],[462.6,20.3],[464.5,22],[466,22.5],[467.5,22.3],[469,22],[470.9,22],[472,20],[473.2,26],[474.3,20],[475.4,24.8],[476.6,25],[478.5,25],[480.4,23.1],[482.2,22.5],[484.1,22.3],[486,22.1],[487.9,22.3],[489.8,21.1],[491.7,20.4],[493.6,20.2],[495.5,20],[497.4,23.4],[499.2,25],[500,25]];

const nov = [[1,21.2],[3,22.9],[5,25.2],[7.5,26.6],[9,33],[11.3,33.6],[12.8,34],[14.3,29.6],[15.8,27.5],[18,27],[19.6,25.4],[21,24],[22.6,22.1],[24,21.9],[26.4,21.8],[28,23.8],[29.4,24.9],[31.3,27.3],[33.2,28.1],[35,26.8],[37,24.5],[38.9,20.8],[40.8,19.9],[42.6,18.7],[44.5,18.5],[46.4,18.8],[48.3,19.5],[50.2,18.5],[52,17.6],[53.6,18.2],[55.5,18.8],[57.7,19.5],[59.6,19.2],[60.8,17.3],[62.6,13.6],[64.5,12.9],[66.4,12],[69.4,12],[71,12.5],[72.8,12.9],[75.1,12.9],[76.6,15],[78.5,16.4],[80.4,19.2],[81.9,20.6],[84.9,20.6],[86.8,18],[88.7,14.1],[90.6,12.9],[92.8,12.8],[94.3,13.4],[95.8,13.5],[97.4,13.2],[99.2,13.9],[101.1,19.9],[102.6,21.9],[104.5,23.4],[106.4,22.9],[108.7,21.9],[110.2,19.4],[112,17.1],[114,15.5],[116.2,15],[117.7,14.3],[119.2,13.9],[121.1,12.8],[123,13.4],[124.5,14.5],[126,17.6],[127.5,20.8],[129.4,26.4],[131.3,26.1],[133.2,25.4],[135,24.5],[136.6,22.4],[138.9,21.2],[140.8,20.3],[142.6,19.2],[144.5,18.8],[146.4,18.5],[148.3,17.3],[150.2,20.8],[151.7,25.4],[154,27.1],[155.8,25.4],[157.7,22.6],[159.6,20.8],[161.5,18.2],[163.4,17.1],[165.3,15.7],[167.2,15.6],[169.1,15.5],[170.6,14.5],[172,13.9],[173.6,18],[175,22.4],[176.6,22.9],[178.5,23.6],[180.4,25.1],[182.3,22.9],[184.2,18.5],[186,17.1],[187.9,15.7],[189.8,14.1],[191.7,13.4],[193.6,12.8],[195.5,13.7],[197,14.3],[198.5,18.5],[200,21.7],[201.1,23.1],[202.3,27.5],[203.8,26.8],[205.7,24.5],[207.5,21.2],[209.4,18.2],[211.3,15.7],[213.2,15],[215.1,13.9],[217.4,13.6],[219.2,13.4],[220.8,14.1],[222.3,15],[223.8,20.3],[225.7,23.7],[227.5,23.6],[229,23.4],[230.9,20.8],[232.5,18],[234,15.7],[235.8,15],[237.4,14.1],[239.2,12],[241.1,11.1],[243,11.5],[244.5,11.8],[246.8,11.8],[248.3,18.5],[250.2,26.1],[252.1,24.5],[254,20.8],[255.8,19.1],[258.5,19.1],[260.4,17.6],[262.3,14.5],[264.2,13.9],[266,13.2],[267.2,12.5],[268.7,11.7],[270.2,17.1],[271.7,24],[273.2,25.6],[274.7,27.8],[276.6,26.6],[278.1,25.6],[279.6,22.9],[281.5,19.4],[283,15.7],[284.9,14.8],[286.8,13.5],[288.3,13.9],[289.8,14.1],[291,21.2],[292.1,13.4],[293.6,18],[295.5,21.2],[297.4,21.2],[299.2,21.2],[301.1,21.5],[303,20.3],[304.9,18],[306.8,15.5],[308.7,13.6],[310.6,13.4],[312.5,12.7],[314,12.4],[315.5,15],[317.4,18.5],[319.2,20.8],[320.8,22.4],[322.3,24],[323.8,23.4],[325.3,22.9],[326.8,20.8],[328.3,19.2],[329.8,17.1],[331.3,15.2],[333.2,13.9],[335,12.8],[337,12.5],[338.9,12.4],[340.8,12.2],[341.9,18],[343.8,20.3],[345.7,23.3],[347.2,23.4],[349,23.6],[350.6,21.2],[352,18],[354,16.9],[355.8,15.9],[357.7,15],[359.6,15.5],[361.5,15.5],[363.4,14.5],[364.5,13.9],[366,20.3],[368,24.5],[369,25.6],[371,28.9],[372.8,28.6],[374.7,24.9],[376.6,20.8],[378.5,19.6],[380.4,18.2],[382.3,19.1],[384.2,19],[386,18.5],[388,20.3],[389.8,23.3],[391.7,25.4],[393.6,27.5],[395.5,26.6],[397.4,24.5],[399.2,21.9],[401.1,21.5],[403,21],[405,18],[406.8,15.9],[408.7,15],[410.6,14.4],[412.5,15.7],[414.3,18.5],[416.2,21.5],[418,22.6],[420,21.2],[421.9,19.4],[423.8,16.4],[425.7,15],[427.5,14.5],[429.4,12],[431.3,10.2],[433.2,9],[435.5,8.8],[437,8.7],[438.9,9.7],[440.8,15.7],[441.9,18],[443.8,16.2],[445.3,14.3],[447.2,12.9],[449,14.8],[451.3,18],[454,18.2],[455.8,18.5],[457.7,18.7],[459.6,19],[463.4,19],[465.3,19],[467.2,19.2],[469,19.4],[471,18.5],[472.8,17.3],[474.7,15.7],[476.6,14.8],[478.5,13.9],[480.4,14.1],[482.3,14.3],[484.2,12.9],[485.3,12.5],[486.8,15.7],[488.3,18.5],[490.6,20.6],[492.5,19.9],[494.3,19],[496.2,18],[498.1,16.9],[500,15.7]];

const dec = [[1,18.4],[2.6,18.6],[4.5,15.6],[6.4,12.9],[8.3,12],[10.2,12.2],[12.1,12.3],[13.6,11.1],[15.1,10.5],[17,12],[18.8,13],[20.7,15.5],[22.2,19],[23.7,17.2],[24.9,16],[26.4,16.7],[27.9,16.2],[29.4,14.7],[30.9,15],[32,13],[33.9,13.1],[35.8,13.4],[37.3,14],[38.8,13.6],[41.1,13],[43,13.9],[44.1,18.6],[46,19.3],[47.5,20.5],[49.4,19.8],[51.6,17.2],[53.5,15.8],[55.4,14.9],[57.3,14],[59.2,13.7],[61,13.2],[62.9,12.2],[64.5,11.3],[65.6,10.5],[67.5,12],[69,16.2],[70.5,20],[72.4,20.8],[74.3,21.5],[76.1,17],[78,14.6],[79.9,13.7],[81.8,12.2],[83.7,11.3],[85.6,10.8],[87.4,10.6],[89.3,9.4],[90.5,8.8],[92,13.9],[93.5,16.8],[95.7,21.4],[98,18.4],[100,16.5],[101.8,15.5],[103.7,14.8],[105.2,14.4],[106.7,13.7],[108.2,13.4],[109.7,13],[111.9,13],[113.8,12.7],[115.7,12.2],[117.6,11.6],[119.5,11.3],[121,12.2],[122.5,12.6],[124,11.3],[125.5,10],[127,9.7],[128.9,9.2],[130.8,8.4],[132.7,8.3],[134.6,7.8],[136.5,8.4],[138.3,11],[140.2,13],[142.1,14.2],[144,14.3],[145.9,13.7],[147.8,13.6],[149.6,14.1],[151.5,14.4],[153.4,14.7],[155.3,14.9],[157.2,15.1],[159.1,15.4],[161,15.5],[162.8,15.6],[164.7,15.7],[166.6,14.8],[168.5,14.2],[170,13.4],[172.3,12.9],[174.2,12.9],[176,12.5],[177.5,11],[179,10.3],[180.5,10],[182.1,9.5],[183.6,10.4],[185,11.3],[186.6,13],[188,15.3],[189.6,17.2],[191.1,19.6],[193,20],[194.5,18.9],[196,17.2],[197.5,14.8],[199.4,14.4],[201.3,14.2],[203.2,13.7],[205,13],[207,12],[208.5,11],[210,10.3],[211.5,12.3],[213,14.1],[214.5,15.5],[216,17.5],[217.5,17.2],[219.4,14.6],[220.9,13.4],[222.4,12],[224,11],[225,10],[226.2,12],[228,11],[229.5,10.3],[231,9.7],[232.9,9.6],[234.5,9],[235.6,9.9],[237.5,13.9],[239.3,14.9],[240.5,16.1],[242,16.1],[243.9,14.1],[245.8,12],[247.6,10.3],[249.5,8.9],[251.4,8.2],[253.7,7.9],[256,7.8],[257.4,7.7],[259,9.7],[260.5,12.3],[262,14.4],[263.8,16.8],[265.4,18.1],[267.2,17.7],[268.7,15.1],[270.2,12],[272.1,10.3],[274,9.4],[275.9,8.6],[277.8,8],[279.7,7.8],[281.6,6.9],[283.5,7.8],[284.6,12.9],[286.1,14.1],[287.6,16.8],[289.5,17.2],[291,18.2],[292.5,16.2],[294,12],[295.5,11.1],[296.6,9],[298.5,9],[300.4,8.9],[302,8.1],[303.4,11],[305,11],[306.4,11.5],[308,13.7],[310,16.8],[311.7,20],[314.7,20],[316.2,17.2],[318.5,11.6],[320.4,10.3],[322.3,8.5],[323.8,7.5],[325.3,6.8],[327.6,6.1],[329,5.9],[330.6,5.8],[332.5,11.3],[334.3,17.2],[336.2,20.5],[338.1,18.4],[340,16.8],[341.9,14.1],[343,11],[344.9,10.6],[346.8,9.7],[348.7,9.4],[350.2,8.5],[351.7,8],[353.2,6.8],[354.7,6],[356.2,11.6],[357.7,16.8],[359.2,20.7],[360.7,23.1],[361.9,24],[363.4,22.4],[364.5,18.1],[365.6,13.7],[366.8,13.8],[368.3,11],[369.8,10.3],[371.3,9.2],[372.8,9],[373.9,10],[375,9.4],[376.6,8.5],[377.7,7.5],[378.8,11.6],[380.7,17.2],[382.2,21.5],[383.4,23],[384.5,21],[385.6,21.5],[386.8,22],[388.2,18.1],[390.2,15.5],[391.6,14.1],[393.2,12.5],[394.7,13],[396.6,13],[398.5,13],[400,12.2],[401.5,11],[403.4,12],[404.9,12.9],[406.4,14.4],[408,17],[409.8,17],[411.7,15.1],[413.5,14.1],[415.5,13],[417.3,12.3],[419.2,10.3],[421.1,9],[423,8.9],[424.9,8],[426.8,6.1],[427.6,5],[429.1,10.3],[430.6,13.7],[432.1,16.3],[433.6,16.5],[436.3,16.5],[438.2,14.8],[440,12],[441.9,10.3],[443.8,6],[446.5,6],[448.2,6.4],[450,7.5],[452,9.4],[453.5,12],[455,13.7],[456.5,15],[458,15.1],[459.2,17],[460.7,15.8],[462.6,14.1],[464.5,12.2],[466.4,11.3],[468.3,10.6],[470.2,11],[471.2,9.9],[472.8,11],[474.7,12],[476.2,12],[477.7,14.1],[479.6,15.8],[481.1,17],[482.6,15.5],[484.5,13.7],[486.2,12.2],[488.2,11.5],[489.7,11],[491.2,12],[492.7,12.3],[494.5,13],[496.4,12.7],[498.3,11.9],[500,13]];

// ---------- LAYOUT ----------
const monthData = [jan,feb,mar,apr,may,jun,jul,aug,sep,oct,nov,dec];
const monthYTicks = [yTicksJan,yTicksFeb,yTicksMar,yTicksApr,yTicksMay,yTicksJun,yTicksJul,yTicksAug,yTicksSep,yTicksOct,yTicksNov,yTicksDec];
const colLeft = [203.5, 1072.5, 1937.5];
const rowTop = [104, 642.5, 1183.5, 1723];
const PW = 663, PH = 364;
const SANS = "'Liberation Sans',Arial,Helvetica,sans-serif";
const NARROW_SCALE = 0.82;
const INK = '#262626';

const grids = [], xAxes = [], yAxes = [], series = [], topX = [], rightY = [];
const panels = [];
monthData.forEach((d, i) => {
  const c = i % 3, r = Math.floor(i / 3);
  const xs = d.map(p => p[0]), ys = d.map(p => p[1]);
  const xmin = Math.min(...xs), xmax = Math.max(...xs);
  const ymin = Math.min(...ys), ymax = Math.max(...ys);
  const xt = (i === 7 || i === 8) ? xTicksLong : xTicksShort;
  const yt = monthYTicks[i];
  const showGrid = (i !== 3);
  panels.push({c, r, xmin, xmax, ymin, ymax, xt, yt});
  grids.push({left: colLeft[c], top: rowTop[r], width: PW, height: PH, show: true,
    borderColor: INK, borderWidth: 3, backgroundColor: '#fff', containLabel: false});
  const tick = {show: true, inside: true, length: 9, lineStyle: {color: INK, width: 3}};
  const split = {show: showGrid, lineStyle: {color: '#6a6a6a', width: 1.6, type: [2, 4]}};
  xAxes.push({type: 'value', gridIndex: i, min: xmin, max: xmax, position: 'bottom',
    axisLine: {show: false}, axisTick: Object.assign({customValues: xt}, tick),
    axisLabel: {show: false}, splitLine: split});
  yAxes.push({type: 'value', gridIndex: i, min: ymin, max: ymax, position: 'left',
    axisLine: {show: false}, axisTick: Object.assign({customValues: yt}, tick),
    axisLabel: {show: false}, splitLine: split});
  topX.push({type: 'value', gridIndex: i, min: xmin, max: xmax, position: 'top',
    axisLine: {show: false}, axisTick: Object.assign({customValues: xt}, tick),
    axisLabel: {show: false}, splitLine: {show: false}});
  rightY.push({type: 'value', gridIndex: i, min: ymin, max: ymax, position: 'right',
    axisLine: {show: false}, axisTick: Object.assign({customValues: yt}, tick),
    axisLabel: {show: false}, splitLine: {show: false}});
  series.push({type: 'line', xAxisIndex: i, yAxisIndex: i, data: d, showSymbol: false,
    symbol: 'none', lineStyle: {color: '#0072BD', width: 3}, animation: false, z: 3});
});

const chart = echarts.init(document.getElementById('c'), null, {renderer: 'canvas', width: 2668, height: 2356});
chart.setOption({
  backgroundColor: '#fff',
  animation: false,
  grid: grids,
  xAxis: xAxes.concat(topX),
  yAxis: yAxes.concat(rightY),
  series: series
});

// Narrow tick labels, positioned with the library's own axis scales
function narrowText(x, y, text, font, align, vAlign) {
  return {type: 'text', x, y, scaleX: NARROW_SCALE, scaleY: 1,
    style: {text, font, fill: INK, textAlign: align, textVerticalAlign: vAlign, align: align, verticalAlign: vAlign}};
}
const graphics = [];
panels.forEach((p, i) => {
  const bottom = rowTop[p.r] + PH, left = colLeft[p.c];
  p.xt.forEach(v => {
    const px = chart.convertToPixel({xAxisIndex: i}, v);
    graphics.push(narrowText(px, bottom + 76, String(v), '66px ' + SANS, 'center', 'middle'));
  });
  p.yt.forEach(v => {
    const py = chart.convertToPixel({yAxisIndex: i}, v);
    graphics.push(narrowText(left - 24, py, String(v), '66px ' + SANS, 'right', 'middle'));
  });
  graphics.push({type: 'text', x: left + PW / 2, y: rowTop[p.r] - 50, scaleX: 0.84,
    style: {text: monthNames[i], font: 'bold 71px ' + SANS, fill: '#000',
      textAlign: 'center', textVerticalAlign: 'middle', align: 'center', verticalAlign: 'middle'}});
});
graphics.push({type: 'text', x: 1411, y: 2292, scaleX: NARROW_SCALE,
  style: {text: 'Time (Hours)', font: '78px ' + SANS, fill: '#000',
    textAlign: 'center', textVerticalAlign: 'middle', align: 'center', verticalAlign: 'middle'}});
graphics.push({type: 'text', x: 55, y: 1098, rotation: Math.PI / 2,
  style: {text: '{a|Temperature  }{s|o}{a|C}',
    rich: {a: {fontSize: 74, fontFamily: SANS, fill: '#000', lineHeight: 84},
           s: {fontSize: 50, fontFamily: SANS, fill: '#000', lineHeight: 56, verticalAlign: 'top'}},
    textAlign: 'center', textVerticalAlign: 'middle', align: 'center', verticalAlign: 'middle'}});
chart.setOption({graphic: graphics});
</script></body></html>
